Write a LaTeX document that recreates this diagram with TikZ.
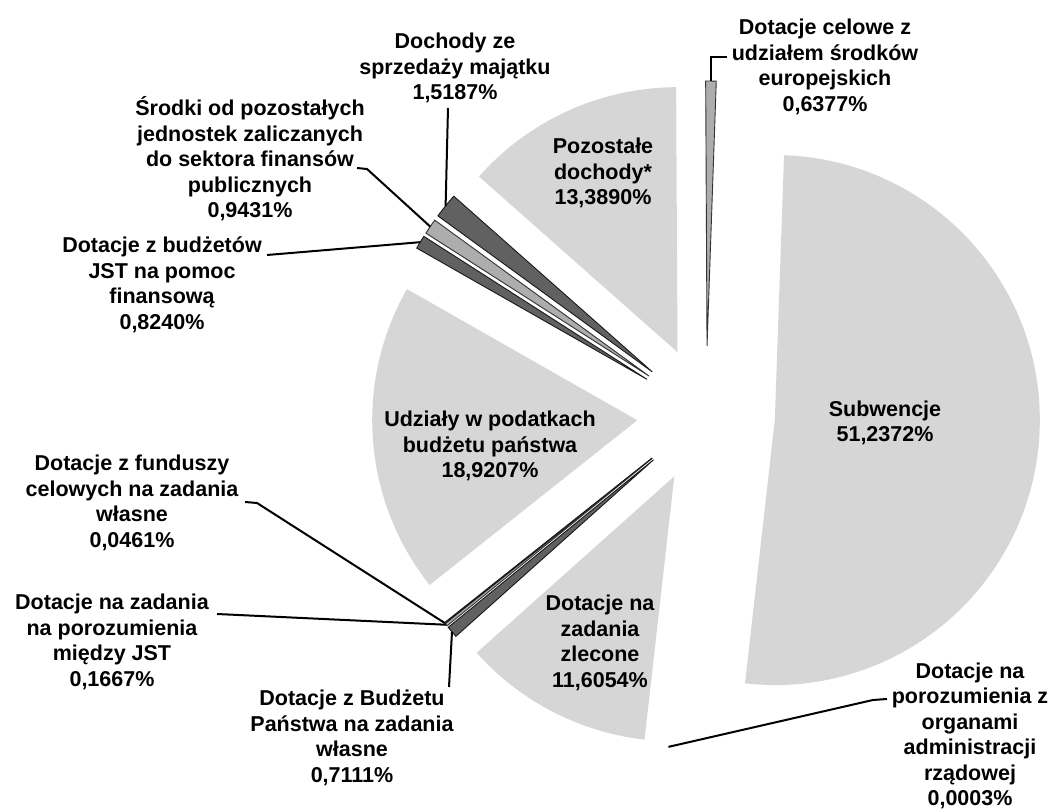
\documentclass[tikz,border=0pt]{standalone}
\usepackage{fontspec}
\setmainfont{Liberation Sans}
\usetikzlibrary{calc}
\newcommand\pieslice[4]{%
  \pgfmathsetmacro\pbis{(#1+#2)/2}%
  \path[#3] ($(C)+(\pbis:69)$) -- ++(#1:265) arc[start angle=#1,end angle=#2,radius=265] -- cycle;%
  \coordinate (#4) at ($(C)+(\pbis:334)$);%
}
\begin{document}
\begin{tikzpicture}[x=1pt,y=1pt,
  lab/.style={font=\fontsize{21.5}{25.5}\selectfont\bfseries, align=center, inner sep=0pt, text=black},
  leader/.style={draw=black, line width=2pt},
  big/.style={fill=black!16},
  thindark/.style={fill=black!62, draw=black!90, line width=0.9pt},
  thinmid/.style={fill=black!32, draw=black!80, line width=0.9pt},
  nofill/.style={}]
\useasboundingbox (0,0) rectangle (1055,811);
\fill[white] (0,0) rectangle (1055,811);
\coordinate (C) at (706,396);
% slices (clockwise from top)
\pieslice{88}{-96.454}{big}{tSubw}
\pieslice{-96.454}{-96.455}{nofill}{tOrgan}
\pieslice{-96.455}{-138.234}{big}{tZlec}
\pieslice{-138.234}{-140.794}{thindark}{tBudz}
\pieslice{-140.794}{-141.395}{thinmid}{tMiedz}
\pieslice{-141.395}{-141.560}{thindark}{tFund}
\pieslice{-141.560}{-209.675}{big}{tUdz}
\pieslice{-209.675}{-212.641}{thindark}{tJST}
\pieslice{-212.641}{-216.037}{thinmid}{tSrod}
\pieslice{-216.037}{-221.504}{thindark}{tSprz}
\pieslice{-221.504}{-269.704}{big}{tPozo}
\pieslice{-269.704}{-272}{thinmid}{tEuro}
% labels inside slices
\node[lab] (lSubw) at (885,388) {Subwencje\\51,2372\%};
\node[lab] (lPozo) at (603,638) {Pozostałe\\dochody*\\13,3890\%};
\node[lab] (lUdz) at (490,365) {Udziały w podatkach\\budżetu państwa\\18,9207\%};
\node[lab] (lZlec) at (600,168) {Dotacje na\\zadania\\zlecone\\11,6054\%};
% outside labels
\node[lab] (lSprz) at (455,743) {Dochody ze\\sprzedaży majątku\\1,5187\%};
\node[lab] (lSrod) at (250,652) {Środki od pozostałych\\jednostek zaliczanych\\do sektora finansów\\publicznych\\0,9431\%};
\node[lab] (lJST) at (162,526) {Dotacje z budżetów\\JST na pomoc\\finansową\\0,8240\%};
\node[lab] (lEuro) at (825,744) {Dotacje celowe z\\udziałem środków\\europejskich\\0,6377\%};
\node[lab] (lFund) at (132,308) {Dotacje z funduszy\\celowych na zadania\\własne\\0,0461\%};
\node[lab] (lMiedz) at (112,169) {Dotacje na zadania\\na porozumienia\\między JST\\0,1667\%};
\node[lab] (lBudz) at (352,73) {Dotacje z Budżetu\\Państwa na zadania\\własne\\0,7111\%};
\node[lab] (lOrgan) at (970,75) {Dotacje na\\porozumienia z\\organami\\administracji\\rządowej\\0,0003\%};
% leader start points
\coordinate (sSprz) at (448,703);
\coordinate (sSrod) at (357,643);
\coordinate (bSrod) at (367,642);
\coordinate (sJST) at (267,556);
\coordinate (sEuro) at (727,754);
\coordinate (sFund) at (245,309);
\coordinate (bFund) at (257,308);
\coordinate (sMiedz) at (217,197);
\coordinate (sBudz) at (449,124);
\coordinate (sOrgan) at (887,112);
\coordinate (bOrgan) at (873,111);
% leaders
\draw[leader] (sSprz) -- (tSprz);
\draw[leader] (sSrod) -- (bSrod) -- (tSrod);
\draw[leader] (sJST) -- (tJST);
\draw[leader] (sEuro) -| (tEuro);
\draw[leader] (sFund) -- (bFund) -- (tFund);
\draw[leader] (sMiedz) -- (tMiedz);
\draw[leader] (sBudz) -- (tBudz);
\draw[leader] (sOrgan) -- (bOrgan) -- (tOrgan);
\end{tikzpicture}
\end{document}
